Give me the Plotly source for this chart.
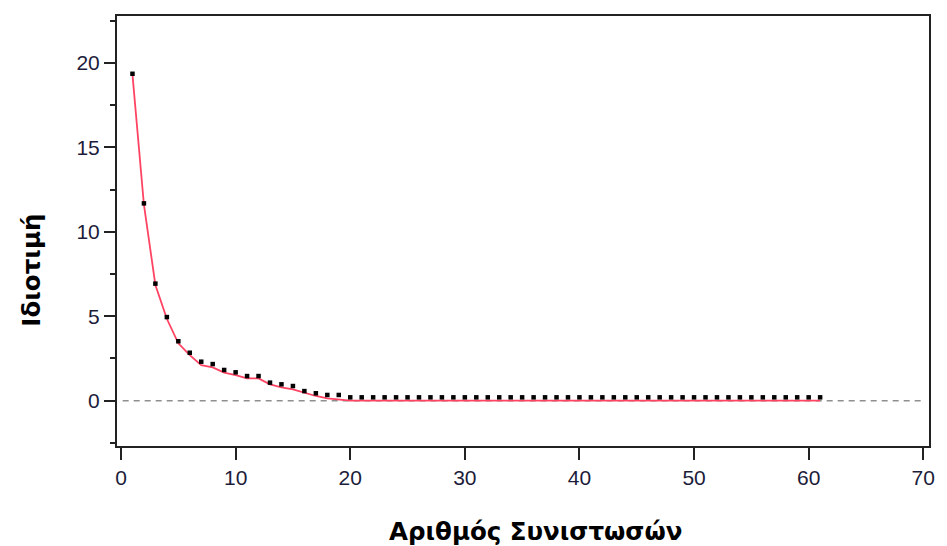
import plotly.graph_objects as go

components = list(range(1, 62))
eigenvalues = [19.35, 11.68, 6.93, 4.95, 3.52, 2.84, 2.31, 2.17, 1.82, 1.68,
               1.46, 1.46, 1.07, 0.97, 0.87, 0.57, 0.44, 0.34, 0.34, 0.20,
               0.20, 0.20, 0.20, 0.20, 0.20, 0.20, 0.20, 0.20, 0.20, 0.20,
               0.20, 0.20, 0.20, 0.20, 0.20, 0.20, 0.20, 0.20, 0.20, 0.20,
               0.20, 0.20, 0.20, 0.20, 0.20, 0.20, 0.20, 0.20, 0.20, 0.20,
               0.20, 0.20, 0.20, 0.20, 0.20, 0.20, 0.20, 0.20, 0.20, 0.20,
               0.20]
fitted_line = [19.30, 11.60, 6.85, 4.85, 3.40, 2.70, 2.10, 1.97, 1.66, 1.52,
               1.32, 1.32, 0.97, 0.79, 0.67, 0.47, 0.28, 0.14, 0.06, 0.0,
               0.0, 0.0, 0.0, 0.0, 0.0, 0.0, 0.0, 0.0, 0.0, 0.0,
               0.0, 0.0, 0.0, 0.0, 0.0, 0.0, 0.0, 0.0, 0.0, 0.0,
               0.0, 0.0, 0.0, 0.0, 0.0, 0.0, 0.0, 0.0, 0.0, 0.0,
               0.0, 0.0, 0.0, 0.0, 0.0, 0.0, 0.0, 0.0, 0.0, 0.0,
               0.0]
x_ticks = [0, 10, 20, 30, 40, 50, 60, 70]
y_ticks = [0, 5, 10, 15, 20]

x_title = "Αριθμός Συνιστωσών"
y_title = "Ιδιοτιμή"

fig = go.Figure()
fig.add_shape(type="line", xref="paper", yref="y", x0=0.007, x1=0.99, y0=0, y1=0,
              line=dict(color="#8f8f8f", width=1.6, dash="6px,5px"), layer="below")
fig.add_trace(go.Scatter(x=components, y=fitted_line, mode="lines",
                         line=dict(color="#ff4463", width=1.8), hoverinfo="skip"))
fig.add_trace(go.Scatter(x=components, y=eigenvalues, mode="markers",
                         marker=dict(symbol="square", size=4.5, color="black")))

tick_font = dict(family="Liberation Sans, Arial, sans-serif", size=21, color="#1c1c3a")
fig.update_layout(
    width=947, height=546,
    margin=dict(l=117, r=12, t=16, b=100),
    paper_bgcolor="white", plot_bgcolor="white",
    showlegend=False,
    xaxis=dict(range=[-0.35, 70.5], tickvals=x_ticks, ticks="outside", ticklen=12,
               tickwidth=2, tickcolor="#222", showline=True, linecolor="#222", linewidth=2,
               mirror=True, showgrid=False, zeroline=False, tickfont=tick_font),
    yaxis=dict(range=[-2.68, 22.77], tickvals=y_ticks, ticks="outside", ticklen=11,
               tickwidth=2, tickcolor="#222", showline=True, linecolor="#222", linewidth=2,
               mirror=True, showgrid=False, zeroline=False, tickfont=tick_font,
               minor=dict(tickvals=[-2.5, 2.5, 7.5, 12.5, 17.5, 22.5], ticks="outside",
                          ticklen=5, tickwidth=2, tickcolor="#222")),
    annotations=[
        dict(text=x_title, xref="paper", yref="paper", x=0.515, y=-0.198,
             xanchor="center", yanchor="middle", showarrow=False,
             font=dict(family="DejaVu Sans, Verdana, sans-serif", size=24.5, color="black", weight="bold")),
        dict(text=y_title, xref="paper", yref="paper", x=-0.1053, y=0.409,
             xanchor="center", yanchor="middle", showarrow=False, textangle=-90,
             font=dict(family="DejaVu Sans, Verdana, sans-serif", size=24.5, color="black", weight="bold")),
    ],
)

fig.write_html("out.html")
